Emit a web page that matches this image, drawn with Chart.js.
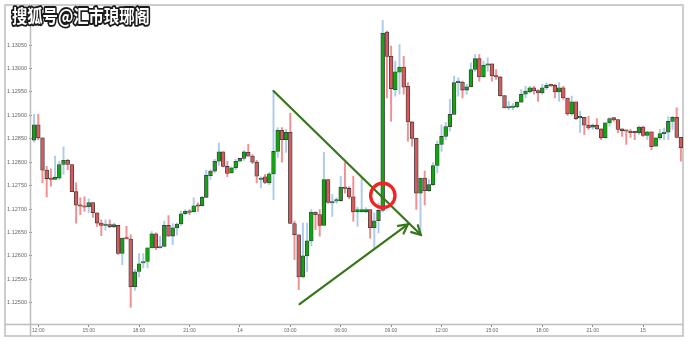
<!DOCTYPE html>
<html><head><meta charset="utf-8">
<script src="https://cdn.jsdelivr.net/npm/chart.js@4.4.1/dist/chart.umd.min.js"></script>
<style>html,body{margin:0;padding:0;background:#fff;overflow:hidden}#wrap{width:690px;height:345px;position:relative}</style>
</head><body><div id="wrap"><canvas id="c"></canvas></div>
<script>
// 15-minute candles, 13th 11:45 -> 15th 02:15
const opens = [1.12847,1.12880,1.12852,1.12783,1.12766,1.12763,1.12766,1.12795,1.12804,1.12795,
1.12737,1.12709,1.12707,1.12705,1.12714,1.12692,1.12670,1.12665,1.12667,1.12662,
1.12665,1.12605,1.12638,1.12636,1.12534,1.12567,1.12585,1.12588,1.12617,1.12647,
1.12617,1.12620,1.12665,1.12642,1.12660,1.12668,1.12690,1.12695,1.12694,1.12707,
1.12707,1.12725,1.12771,1.12781,1.12802,1.12822,1.12791,1.12777,1.12788,1.12802,
1.12808,1.12821,1.12813,1.12800,1.12763,1.12769,1.12756,1.12775,1.12823,1.12868,
1.12848,1.12864,1.12669,1.12645,1.12555,1.12600,1.12632,1.12693,1.12688,1.12665,
1.12763,1.12713,1.12717,1.12718,1.12747,1.12744,1.12726,1.12694,1.12694,1.12694,
1.12699,1.12660,1.12675,1.12697,1.13078,1.13026,1.12955,1.12992,1.13003,1.12962,
1.12886,1.12851,1.12734,1.12766,1.12739,1.12752,1.12793,1.12838,1.12855,1.12876,
1.12902,1.12970,1.12971,1.12954,1.12961,1.12998,1.13021,1.12982,1.13007,1.13010,
1.12985,1.12982,1.12942,1.12916,1.12917,1.12918,1.12928,1.12945,1.12950,1.12959,
1.12953,1.12948,1.12959,1.12964,1.12964,1.12950,1.12959,1.12937,1.12903,1.12929,
1.12895,1.12896,1.12879,1.12875,1.12879,1.12871,1.12852,1.12884,1.12895,1.12891,
1.12871,1.12868,1.12866,1.12864,1.12863,1.12875,1.12857,1.12865,1.12834,1.12852,
1.12861,1.12864,1.12887,1.12896,1.12853];
const highs = [1.12902,1.12902,1.12852,1.12791,1.12786,1.12813,1.12802,1.12833,1.12806,1.12795,
1.12756,1.12724,1.12726,1.12722,1.12714,1.12692,1.12677,1.12677,1.12677,1.12670,
1.12665,1.12638,1.12663,1.12645,1.12571,1.12605,1.12605,1.12617,1.12652,1.12649,
1.12642,1.12674,1.12686,1.12669,1.12670,1.12695,1.12699,1.12699,1.12724,1.12713,
1.12727,1.12783,1.12784,1.12806,1.12841,1.12822,1.12802,1.12790,1.12806,1.12809,
1.12825,1.12838,1.12816,1.12804,1.12769,1.12774,1.12778,1.12952,1.12874,1.12874,
1.12870,1.12905,1.12674,1.12645,1.12670,1.12670,1.12699,1.12694,1.12699,1.12821,
1.12763,1.12731,1.12724,1.12770,1.12799,1.12748,1.12770,1.12704,1.12766,1.12703,
1.12699,1.12692,1.12713,1.13103,1.13080,1.13048,1.13016,1.13051,1.13026,1.12970,
1.12886,1.12851,1.12766,1.12781,1.12763,1.12799,1.12845,1.12880,1.12885,1.12934,
1.12984,1.12980,1.12973,1.12966,1.13012,1.13030,1.13030,1.13016,1.13023,1.13010,
1.12998,1.12982,1.12942,1.12930,1.12925,1.12930,1.12955,1.12962,1.12962,1.12962,
1.12955,1.12966,1.12970,1.12967,1.12966,1.12970,1.12962,1.12937,1.12941,1.12929,
1.12909,1.12896,1.12898,1.12882,1.12893,1.12871,1.12884,1.12895,1.12895,1.12891,
1.12871,1.12869,1.12870,1.12866,1.12877,1.12877,1.12866,1.12865,1.12852,1.12870,
1.12873,1.12897,1.12898,1.12916,1.12853];
const lows = [1.12843,1.12848,1.12756,1.12726,1.12749,1.12763,1.12763,1.12774,1.12784,1.12737,
1.12670,1.12688,1.12695,1.12692,1.12682,1.12663,1.12643,1.12655,1.12660,1.12660,
1.12603,1.12581,1.12636,1.12490,1.12526,1.12555,1.12574,1.12574,1.12617,1.12613,
1.12617,1.12619,1.12642,1.12624,1.12644,1.12665,1.12688,1.12688,1.12694,1.12695,
1.12706,1.12725,1.12763,1.12777,1.12793,1.12790,1.12769,1.12776,1.12784,1.12801,
1.12804,1.12813,1.12797,1.12756,1.12745,1.12754,1.12752,1.12720,1.12810,1.12800,
1.12821,1.12669,1.12592,1.12528,1.12553,1.12567,1.12622,1.12656,1.12642,1.12665,
1.12712,1.12684,1.12712,1.12716,1.12734,1.12722,1.12674,1.12663,1.12694,1.12692,
1.12638,1.12617,1.12649,1.12694,1.12937,1.12887,1.12941,1.12945,1.12945,1.12845,
1.12834,1.12699,1.12645,1.12709,1.12737,1.12750,1.12777,1.12823,1.12848,1.12866,
1.12902,1.12941,1.12937,1.12945,1.12960,1.12994,1.12973,1.12981,1.12994,1.12973,
1.12977,1.12941,1.12916,1.12912,1.12912,1.12916,1.12927,1.12937,1.12948,1.12945,
1.12930,1.12945,1.12955,1.12961,1.12937,1.12930,1.12934,1.12900,1.12900,1.12891,
1.12863,1.12859,1.12870,1.12870,1.12870,1.12848,1.12852,1.12877,1.12887,1.12863,
1.12855,1.12838,1.12853,1.12848,1.12859,1.12855,1.12848,1.12827,1.12833,1.12848,
1.12848,1.12848,1.12870,1.12852,1.12802];
const closes = [1.12880,1.12852,1.12783,1.12765,1.12763,1.12768,1.12795,1.12804,1.12795,1.12737,
1.12708,1.12706,1.12704,1.12714,1.12692,1.12670,1.12665,1.12667,1.12662,1.12667,
1.12605,1.12638,1.12636,1.12534,1.12566,1.12583,1.12588,1.12617,1.12647,1.12617,
1.12620,1.12665,1.12642,1.12660,1.12668,1.12690,1.12695,1.12693,1.12707,1.12706,
1.12725,1.12772,1.12781,1.12802,1.12822,1.12791,1.12776,1.12788,1.12802,1.12808,
1.12822,1.12813,1.12800,1.12770,1.12765,1.12757,1.12775,1.12823,1.12868,1.12848,
1.12864,1.12669,1.12645,1.12555,1.12600,1.12632,1.12693,1.12688,1.12665,1.12763,
1.12714,1.12716,1.12718,1.12747,1.12744,1.12726,1.12694,1.12699,1.12699,1.12699,
1.12660,1.12675,1.12697,1.13075,1.13026,1.12957,1.12993,1.13003,1.12960,1.12886,
1.12851,1.12734,1.12766,1.12739,1.12752,1.12793,1.12838,1.12855,1.12876,1.12902,
1.12970,1.12971,1.12954,1.12961,1.12998,1.13021,1.12982,1.13007,1.13010,1.12984,
1.12982,1.12942,1.12916,1.12918,1.12918,1.12928,1.12945,1.12952,1.12959,1.12952,
1.12948,1.12959,1.12964,1.12963,1.12950,1.12959,1.12937,1.12903,1.12929,1.12893,
1.12896,1.12879,1.12873,1.12879,1.12871,1.12852,1.12884,1.12893,1.12890,1.12870,
1.12867,1.12866,1.12863,1.12863,1.12875,1.12857,1.12865,1.12833,1.12852,1.12861,
1.12864,1.12887,1.12896,1.12853,1.12831];

const yTicks = [1.12500,1.12550,1.12600,1.12650,1.12700,1.12750,1.12800,1.12850,1.12900,1.12950,1.13000,1.13050];
const startDay = 13, startTime = '11:45', stepMinutes = 15;
// category labels: one timestamp per candle
const categories = [];
(function(){
  const [h0,m0] = startTime.split(':').map(Number);
  for (let i = 0; i < opens.length; i++) {
    const t = h0*60 + m0 + stepMinutes*i;
    const d = startDay + Math.floor(t/1440), r = t % 1440;
    categories.push(d + ' ' + String(Math.floor(r/60)).padStart(2,'0') + ':' + String(r%60).padStart(2,'0'));
  }
})();
// annotations (data space: candle index, price)
const trendLines = [
  {x1: 57, y1: 1.12952, x2: 92.07, y2: 1.12645},
  {x1: 63.2, y1: 1.12497, x2: 88.98, y2: 1.12667}
];
const markCircle = {x: 83.02, y: 1.12729};
const watermark = '搜狐号@汇市琅琊阁';

const UP = '#12a512', DN = '#d65a5c', UPW = '#aecbea', DNW = '#f09090';
const isUp = opens.map((o,i)=> closes[i] >= o);

const framePlugin = {
  id: 'frame',
  beforeDatasetsDraw(chart) {
    const ctx = chart.ctx, a = chart.chartArea;
    ctx.save();
    ctx.strokeStyle = '#bdbdbd'; ctx.lineWidth = 1.5;
    ctx.strokeRect(5, 5, 678, 331);
    ctx.beginPath();
    ctx.moveTo(30.5, 5); ctx.lineTo(30.5, 336);
    ctx.moveTo(5, a.bottom + 0.5); ctx.lineTo(683, a.bottom + 0.5);
    ctx.stroke();
    ctx.restore();
  },
  afterDatasetsDraw(chart) {
    const ctx = chart.ctx, xs = chart.scales.x, ys = chart.scales.y;
    ctx.save();
    ctx.strokeStyle = '#377619'; ctx.lineWidth = 2.2; ctx.lineCap = 'round';
    trendLines.forEach(l => {
      const x1 = xs.getPixelForValue(l.x1), y1 = ys.getPixelForValue(l.y1);
      const x2 = xs.getPixelForValue(l.x2), y2 = ys.getPixelForValue(l.y2);
      ctx.beginPath(); ctx.moveTo(x1,y1); ctx.lineTo(x2,y2); ctx.stroke();
      const ang = Math.atan2(y2-y1, x2-x1), L = 10, w = 0.5;
      ctx.beginPath();
      ctx.moveTo(x2 - L*Math.cos(ang-w), y2 - L*Math.sin(ang-w));
      ctx.lineTo(x2, y2);
      ctx.lineTo(x2 - L*Math.cos(ang+w), y2 - L*Math.sin(ang+w));
      ctx.stroke();
    });
    ctx.strokeStyle = '#f02424'; ctx.lineWidth = 3.3;
    ctx.beginPath();
    ctx.arc(xs.getPixelForValue(markCircle.x), ys.getPixelForValue(markCircle.y), 12.2, 0, Math.PI*2);
    ctx.stroke();
    ctx.restore();
  },
  afterDraw(chart) {
    const ctx = chart.ctx;
    ctx.save();
    ctx.translate(12, 16);
    ctx.scale(0.9, 1.08);
    ctx.font = 'bold 17px "Noto Sans CJK SC"';
    ctx.textBaseline = 'middle'; ctx.textAlign = 'left';
    ctx.lineJoin = 'round';
    ctx.strokeStyle = '#1a1a1a'; ctx.lineWidth = 3.5;
    ctx.strokeText(watermark, 0, 0);
    ctx.fillStyle = '#ffffff';
    ctx.fillText(watermark, 0, 0);
    ctx.restore();
  }
};

new Chart(document.getElementById('c'), {
  type: 'bar',
  data: {
    labels: categories,
    datasets: [
      {
        label: 'wick', order: 2, grouped: false,
        data: lows.map((l,i)=>[l, highs[i]]),
        backgroundColor: isUp.map(u => u ? UPW : DNW),
        barThickness: 1.3, borderWidth: 0
      },
      {
        label: 'body', order: 1, grouped: false,
        data: opens.map((o,i)=>[o, closes[i]]),
        backgroundColor: isUp.map(u => u ? UP : DN),
        borderColor: '#3a3a3a', borderWidth: 0.8, borderSkipped: false,
        barThickness: 3.8, minBarLength: 1.4
      }
    ]
  },
  options: {
    responsive: true, maintainAspectRatio: false, animation: false,
    layout: {padding: {left: 0, right: 7, top: 5, bottom: 0}},
    plugins: {legend: {display: false}, tooltip: {enabled: false}},
    scales: {
      x: {
        offset: true,
        grid: {display: true, drawOnChartArea: false, offset: false, tickLength: 3, color: '#8a8a8a'},
        border: {display: false},
        ticks: {
          autoSkip: false, maxRotation: 0, minRotation: 0, padding: 1,
          color: '#666', font: {size: 5, family: 'Liberation Sans, Arial'},
          callback: (v, i) => {
            const [d, t] = categories[i].split(' ');
            const [h, m] = t.split(':').map(Number);
            if (m !== 0 || h % 3 !== 0) return null;
            return h === 0 ? d : t;
          }
        },
        afterFit: s => { s.height = 21; }
      },
      y: {
        min: 1.124545, max: 1.13135,
        grid: {display: true, drawOnChartArea: false, tickLength: 3, color: '#8a8a8a'},
        border: {display: false},
        afterBuildTicks: s => { s.ticks = yTicks.map(v => ({value: v})); },
        ticks: {
          padding: 2, color: '#666', font: {size: 5.5, family: 'Liberation Sans, Arial'},
          callback: v => Number(v).toFixed(5)
        },
        afterFit: s => { s.width = 32; }
      }
    }
  },
  plugins: [framePlugin]
});
</script>
</body></html>
